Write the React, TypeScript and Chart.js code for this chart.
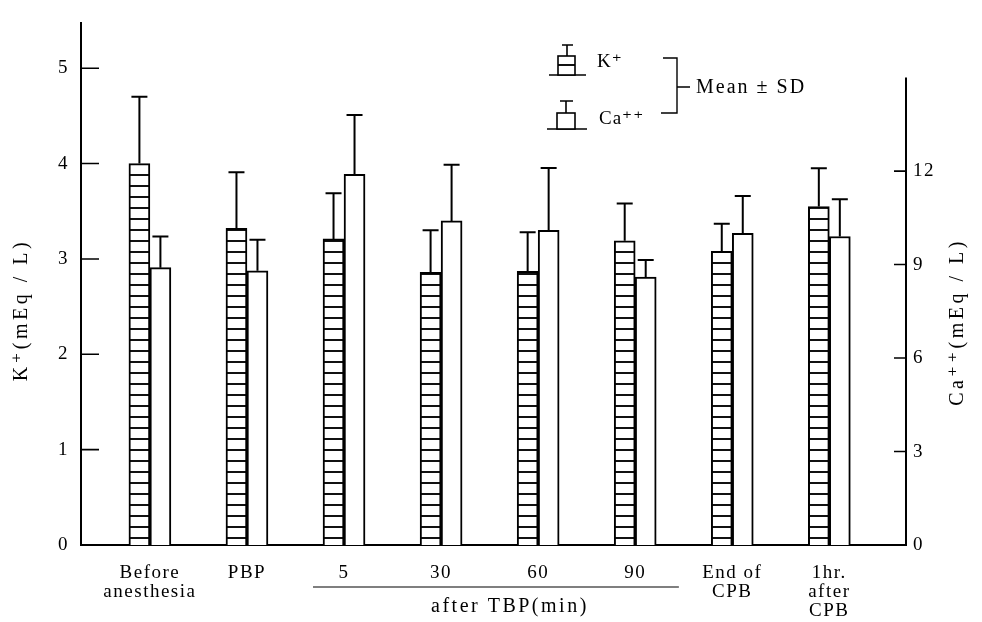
import React, { useEffect, useRef } from "react";
import { Chart, registerables } from "chart.js";

Chart.register(...registerables);

// ---------- data ----------
const CATEGORIES: string[][] = [
  ["Before", "anesthesia"],
  ["PBP"],
  ["5"],
  ["30"],
  ["60"],
  ["90"],
  ["End of", "CPB"],
  ["1hr.", "after", "CPB"],
];
const K_MEAN = [4.0, 3.32, 3.21, 2.86, 2.87, 3.19, 3.08, 3.55];
const K_SD = [0.7, 0.59, 0.48, 0.44, 0.41, 0.39, 0.29, 0.4];
const CA_MEAN = [8.9, 8.8, 11.9, 10.4, 10.1, 8.6, 10.0, 9.9];
const CA_SD = [1.0, 1.0, 1.9, 1.8, 2.0, 0.55, 1.2, 1.2];
const K_TICKS = [0, 1, 2, 3, 4, 5];
const CA_TICKS = [0, 3, 6, 9, 12];
const CA_AXIS_TOP = 15;
const K_AXIS_MAX = 5.47;
const CA_AXIS_MAX = 16.74;
const GROUP_LABEL = "after TBP(min)";
const GROUP_FROM = 2;
const GROUP_TO = 5;
const K_TITLE = "K⁺(mEq / L)";
const CA_TITLE = "Ca⁺⁺(mEq / L)";
const LEGEND_K = "K⁺";
const LEGEND_CA = "Ca⁺⁺";
const LEGEND_NOTE = "Mean ± SD";

const SERIF = '"Liberation Serif", "DejaVu Serif", serif';

function makeHatch(): CanvasPattern | string {
  const c = document.createElement("canvas");
  c.width = 8;
  c.height = 11;
  const g = c.getContext("2d");
  if (!g) return "#fff";
  g.fillStyle = "#fff";
  g.fillRect(0, 0, 8, 11);
  g.fillStyle = "#111";
  g.fillRect(0, 9, 8, 2);
  return g.createPattern(c, "repeat") || "#fff";
}

export default function App() {
  const ref = useRef<HTMLCanvasElement>(null);

  useEffect(() => {
    const canvas = ref.current;
    if (!canvas) return;
    const hatch = makeHatch();

    const decor = {
      id: "decor",
      beforeDraw(chart: any) {
        chart.ctx.letterSpacing = "1.5px";
      },
      afterDraw(chart: any) {
        const ctx: CanvasRenderingContext2D = chart.ctx;
        const xs = chart.scales.x;
        const yK = chart.scales.y;
        const yC = chart.scales.y1;
        const { left, right, bottom } = chart.chartArea;
        ctx.save();
        ctx.strokeStyle = "#000";
        ctx.fillStyle = "#000";
        ctx.lineWidth = 2;

        // error bars (upper only)
        const sets: [number, number[], number[], any][] = [
          [0, K_MEAN, K_SD, yK],
          [1, CA_MEAN, CA_SD, yC],
        ];
        for (const [di, mean, sd, ys] of sets) {
          const meta = chart.getDatasetMeta(di);
          meta.data.forEach((el: any, i: number) => {
            const top = ys.getPixelForValue(mean[i] + sd[i]);
            ctx.beginPath();
            ctx.moveTo(el.x, el.y);
            ctx.lineTo(el.x, top);
            ctx.moveTo(el.x - 8, top);
            ctx.lineTo(el.x + 8, top);
            ctx.stroke();
          });
        }

        // right axis line (only up to CA_AXIS_TOP)
        ctx.beginPath();
        ctx.moveTo(right, yC.getPixelForValue(0));
        ctx.lineTo(right, yC.getPixelForValue(CA_AXIS_TOP));
        ctx.stroke();

        // inward ticks
        ctx.lineWidth = 1.6;
        ctx.beginPath();
        for (const v of K_TICKS) {
          if (v === 0) continue;
          const p = yK.getPixelForValue(v);
          ctx.moveTo(left, p);
          ctx.lineTo(left + 18, p);
        }
        for (const v of CA_TICKS) {
          if (v === 0) continue;
          const p = yC.getPixelForValue(v);
          ctx.moveTo(right - 12, p);
          ctx.lineTo(right, p);
        }
        ctx.stroke();

        // grouping line + label
        const gx0 = xs.getPixelForValue(GROUP_FROM - 0.32);
        const gx1 = xs.getPixelForValue(GROUP_TO + 0.45);
        ctx.lineWidth = 1.2;
        ctx.beginPath();
        ctx.moveTo(gx0, bottom + 42);
        ctx.lineTo(gx1, bottom + 42);
        ctx.stroke();
        ctx.font = `20px ${SERIF}`;
        ctx.letterSpacing = "2.5px";
        ctx.textAlign = "center";
        ctx.textBaseline = "middle";
        ctx.fillText(GROUP_LABEL, (gx0 + gx1) / 2 + 14, bottom + 62);

        // axis titles
        ctx.font = `20px ${SERIF}`;
        ctx.letterSpacing = "3.5px";
        ctx.save();
        ctx.translate(22, 310);
        ctx.rotate(-Math.PI / 2);
        ctx.fillText(K_TITLE, 0, 0);
        ctx.restore();
        ctx.save();
        ctx.translate(958, 322);
        ctx.rotate(-Math.PI / 2);
        ctx.fillText(CA_TITLE, 0, 0);
        ctx.restore();

        // legend
        ctx.lineWidth = 1.6;
        // K icon
        ctx.beginPath();
        ctx.moveTo(549, 75);
        ctx.lineTo(586, 75);
        ctx.stroke();
        ctx.fillStyle = hatch as any;
        ctx.fillRect(558, 56, 17, 19);
        ctx.strokeRect(558, 56, 17, 19);
        ctx.beginPath();
        ctx.moveTo(567, 56);
        ctx.lineTo(567, 45);
        ctx.moveTo(562, 45);
        ctx.lineTo(573, 45);
        ctx.stroke();
        // Ca icon
        ctx.beginPath();
        ctx.moveTo(547, 129);
        ctx.lineTo(587, 129);
        ctx.stroke();
        ctx.fillStyle = "#fff";
        ctx.fillRect(557, 113, 18, 16);
        ctx.strokeRect(557, 113, 18, 16);
        ctx.beginPath();
        ctx.moveTo(566, 113);
        ctx.lineTo(566, 101);
        ctx.moveTo(560, 101);
        ctx.lineTo(573, 101);
        ctx.stroke();
        // bracket
        ctx.lineWidth = 1.4;
        ctx.beginPath();
        ctx.moveTo(663, 58);
        ctx.lineTo(677, 58);
        ctx.lineTo(677, 113);
        ctx.lineTo(661, 113);
        ctx.moveTo(677, 87);
        ctx.lineTo(690, 87);
        ctx.stroke();
        // legend texts
        ctx.fillStyle = "#000";
        ctx.textAlign = "left";
        ctx.textBaseline = "middle";
        ctx.letterSpacing = "1px";
        ctx.font = `19px ${SERIF}`;
        ctx.fillText(LEGEND_K, 597, 62);
        ctx.fillText(LEGEND_CA, 599, 119);
        ctx.font = `20px ${SERIF}`;
        ctx.letterSpacing = "2px";
        ctx.fillText(LEGEND_NOTE, 696, 88);
        ctx.restore();
      },
    };

    const tickFont = { family: SERIF, size: 19, lineHeight: 1.0 };

    const chart = new Chart(canvas, {
      type: "bar",
      data: {
        labels: CATEGORIES.map((_, i) => i),
        datasets: [
          {
            label: LEGEND_K,
            data: K_MEAN,
            yAxisID: "y",
            backgroundColor: hatch as any,
            borderColor: "#000",
            borderWidth: 2,
            barThickness: 21,
          },
          {
            label: LEGEND_CA,
            data: CA_MEAN,
            yAxisID: "y1",
            backgroundColor: "#fff",
            borderColor: "#000",
            borderWidth: 2,
            barThickness: 21,
          },
        ],
      },
      options: {
        responsive: false,
        animation: false,
        layout: { padding: { top: 15, left: 0, right: 0, bottom: 0 } },
        plugins: { legend: { display: false }, tooltip: { enabled: false } },
        scales: {
          x: {
            type: "linear",
            offset: false,
            min: -0.71,
            max: 7.79,
            grid: { display: false, drawTicks: false },
            border: { display: true, color: "#000", width: 2 },
            ticks: {
              autoSkip: false,
              maxRotation: 0,
              color: "#000",
              padding: 19,
              font: tickFont,
              callback: (v: any) => CATEGORIES[v] ?? "",
            },
            afterBuildTicks: (s: any) => {
              s.ticks = CATEGORIES.map((_, i) => ({ value: i }));
            },
            afterFit: (s: any) => {
              s.height = 77;
            },
          },
          y: {
            type: "linear",
            position: "left",
            min: 0,
            max: K_AXIS_MAX,
            grid: { display: false, drawTicks: false },
            border: { display: true, color: "#000", width: 2 },
            ticks: { color: "#000", padding: 12, font: { family: SERIF, size: 19 } },
            afterBuildTicks: (s: any) => {
              s.ticks = K_TICKS.map((v) => ({ value: v }));
            },
            afterFit: (s: any) => {
              s.width = 81;
            },
          },
          y1: {
            type: "linear",
            position: "right",
            min: 0,
            max: CA_AXIS_MAX,
            grid: { display: false, drawTicks: false },
            border: { display: false },
            ticks: { color: "#000", padding: 7, font: { family: SERIF, size: 19 } },
            afterBuildTicks: (s: any) => {
              s.ticks = CA_TICKS.map((v) => ({ value: v }));
            },
            afterFit: (s: any) => {
              s.width = 76;
            },
          },
        },
      } as any,
      plugins: [decor],
    });
    return () => chart.destroy();
  }, []);

  return (
    <div style={{ position: "fixed", left: 0, top: 0, width: 982, height: 622, background: "#fff" }}>
      <canvas ref={ref} width={982} height={622} style={{ display: "block" }} />
    </div>
  );
}
